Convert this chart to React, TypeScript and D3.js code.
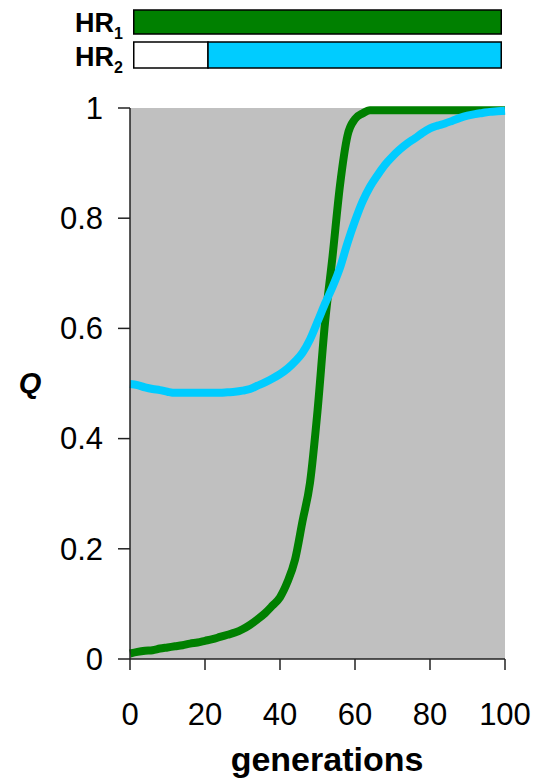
import React from 'react';
import * as d3 from 'd3';

// generations sampled every 2
const generations = d3.range(0, 101, 2);

// HR1 (green) frequency Q
const hr1Values = [
  0.010, 0.013, 0.015, 0.016, 0.019, 0.021, 0.023, 0.025, 0.028, 0.030,
  0.033, 0.036, 0.040, 0.044, 0.048, 0.054, 0.062, 0.072, 0.083, 0.097,
  0.112, 0.140, 0.180, 0.250, 0.320, 0.450, 0.610, 0.730, 0.860, 0.950,
  0.980, 0.990, 0.996, 0.996, 0.996, 0.996, 0.996, 0.996, 0.996, 0.996,
  0.996, 0.996, 0.996, 0.996, 0.996, 0.996, 0.996, 0.996, 0.996, 0.996,
  0.996,
];

// HR2 (cyan) frequency Q
const hr2Values = [
  0.499, 0.497, 0.493, 0.490, 0.488, 0.485, 0.483, 0.483, 0.483, 0.483,
  0.483, 0.483, 0.483, 0.484, 0.485, 0.487, 0.490, 0.496, 0.502, 0.509,
  0.517, 0.527, 0.540, 0.556, 0.580, 0.612, 0.645, 0.675, 0.710, 0.755,
  0.795, 0.830, 0.857, 0.878, 0.897, 0.912, 0.925, 0.936, 0.945, 0.955,
  0.963, 0.968, 0.972, 0.977, 0.982, 0.986, 0.989, 0.991, 0.993, 0.994,
  0.995,
];

const xTicks = [0, 20, 40, 60, 80, 100];
const yTicks = [0, 0.2, 0.4, 0.6, 0.8, 1];

// regime bars above the chart (generation spans)
const hr1Regimes = [{ start: 1, end: 99, fill: '#008000' }];
const hr2Regimes = [
  { start: 1, end: 20.8, fill: '#ffffff' },
  { start: 20.8, end: 99, fill: '#00ccff' },
];

const FONT = '"Liberation Sans", Arial, sans-serif';

export default function App() {
  const width = 538;
  const height = 782;
  const margin = { top: 108, right: 33, bottom: 123, left: 130 };

  const x = d3.scaleLinear().domain([0, 100]).range([margin.left, width - margin.right]);
  const y = d3.scaleLinear().domain([0, 1]).range([height - margin.bottom, margin.top]);

  const line = d3.line<number>()
    .x((_, i) => x(generations[i]))
    .y(d => y(d))
    .curve(d3.curveMonotoneX);

  const x0 = x(0), x1 = x(100), y0 = y(0), y1 = y(1);

  const bars = [
    { label: '1', regimes: hr1Regimes, top: 10, h: 24, textY: 32 },
    { label: '2', regimes: hr2Regimes, top: 42, h: 26, textY: 66 },
  ];

  return (
    <svg width={width} height={height} style={{ position: 'absolute', left: 0, top: 0 }}
      fontFamily={FONT}>
      <rect x={0} y={0} width={width} height={height} fill="#fff" />

      {bars.map(b => (
        <g key={b.label}>
          <text x={75} y={b.textY} fontSize={27} fontWeight="bold">
            HR<tspan fontSize={16} dy={7}>{b.label}</tspan>
          </text>
          {b.regimes.map((r, i) => (
            <rect key={i} x={x(r.start)} y={b.top} width={x(r.end) - x(r.start)} height={b.h}
              fill={r.fill} stroke="#000" strokeWidth={1.5} />
          ))}
        </g>
      ))}

      <rect x={x0} y={y1} width={x1 - x0} height={y0 - y1} fill="#c0c0c0" />

      <path d={line(hr1Values) || ''} fill="none" stroke="#008000" strokeWidth={8}
        strokeLinejoin="round" />
      <path d={line(hr2Values) || ''} fill="none" stroke="#00ccff" strokeWidth={8}
        strokeLinejoin="round" />

      {/* y axis */}
      <line x1={x0} x2={x0} y1={y1} y2={y0} stroke="#222" strokeWidth={1.5} />
      {yTicks.map(t => (
        <g key={t}>
          <line x1={x0 - 12} x2={x0} y1={y(t)} y2={y(t)} stroke="#222" strokeWidth={1.5} />
          <text x={103} y={y(t)} dy="0.35em" textAnchor="end" fontSize={31}>{t}</text>
        </g>
      ))}

      {/* x axis */}
      <line x1={x0} x2={x1} y1={y0} y2={y0} stroke="#222" strokeWidth={1.5} />
      {xTicks.map(t => (
        <g key={t}>
          <line x1={x(t)} x2={x(t)} y1={y0} y2={y0 + 11} stroke="#222" strokeWidth={1.5} />
          <text x={x(t)} y={725} textAnchor="middle" fontSize={31}>{t}</text>
        </g>
      ))}

      <text x={327} y={771} textAnchor="middle" fontSize={34} fontWeight="bold">generations</text>
      <text x={30} y={393} textAnchor="middle" fontSize={29} fontWeight="bold" fontStyle="italic">Q</text>
    </svg>
  );
}
